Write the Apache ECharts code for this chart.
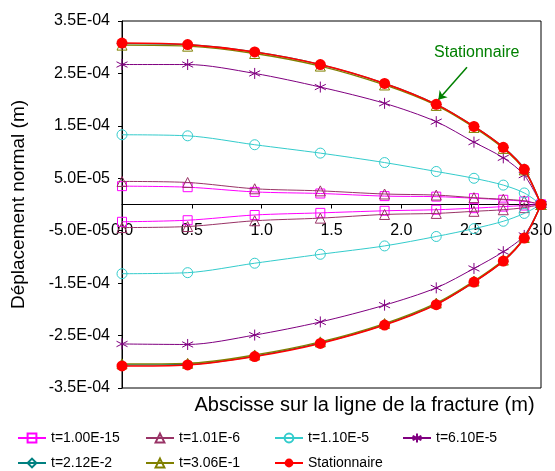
<!DOCTYPE html>
<html>
<head>
<meta charset="utf-8">
<script src="https://cdn.jsdelivr.net/npm/echarts@6/dist/echarts.min.js"></script>
<style>
  html, body { margin: 0; padding: 0; background: #fff; }
  #main { width: 555px; height: 471px; }
</style>
</head>
<body>
<div id="main"></div>
<script>
// abscisses des noeuds (m)
var xs = [0, 0.47, 0.95, 1.42, 1.88, 2.25, 2.52, 2.73, 2.88, 3.0];

// deplacements en 1E-04 m : levre haute / levre basse
var t1Haut  = [0.35, 0.33, 0.24, 0.21, 0.16, 0.15, 0.12, 0.09, 0.06, 0];
var t1Bas   = [-0.33, -0.30, -0.20, -0.16, -0.12, -0.10, -0.07, -0.04, -0.02, 0];
var t2Haut  = [0.44, 0.42, 0.30, 0.26, 0.20, 0.18, 0.13, 0.10, 0.07, 0];
var t2Bas   = [-0.44, -0.42, -0.31, -0.26, -0.19, -0.17, -0.13, -0.10, -0.06, 0];
var t3Haut  = [1.33, 1.31, 1.14, 0.98, 0.80, 0.63, 0.50, 0.37, 0.22, 0];
var t3Bas   = [-1.32, -1.30, -1.12, -0.95, -0.79, -0.61, -0.46, -0.32, -0.17, 0];
var t4Haut  = [2.67, 2.67, 2.50, 2.24, 1.93, 1.58, 1.19, 0.89, 0.56, 0];
var t4Bas   = [-2.66, -2.67, -2.49, -2.24, -1.92, -1.59, -1.22, -0.90, -0.59, 0];
var t5Haut  = [3.07, 3.05, 2.91, 2.67, 2.31, 1.91, 1.49, 1.09, 0.68, 0];
var t5Bas   = [-3.06, -3.05, -2.89, -2.64, -2.29, -1.90, -1.48, -1.08, -0.64, 0];
var t6Haut  = [3.04, 3.02, 2.88, 2.64, 2.28, 1.89, 1.47, 1.07, 0.66, 0];
var t6Bas   = [-3.04, -3.03, -2.87, -2.62, -2.27, -1.88, -1.46, -1.06, -0.63, 0];
var statHaut = [3.08, 3.05, 2.91, 2.67, 2.31, 1.91, 1.49, 1.09, 0.67, 0];
var statBas  = [-3.08, -3.06, -2.90, -2.65, -2.30, -1.91, -1.48, -1.08, -0.64, 0];

var noms = ['t=1.00E-15', 't=1.01E-6', 't=1.10E-5', 't=6.10E-5', 't=2.12E-2', 't=3.06E-1', 'Stationnaire'];

// graduations
var yTicks = [-3.5e-4, -2.5e-4, -1.5e-4, -5e-5, 5e-5, 1.5e-4, 2.5e-4, 3.5e-4];
var xTicks = [0, 0.5, 1.0, 1.5, 2.0, 2.5, 3.0];

var asterisque = 'path://M5,0L5,10M0.7,2.5L9.3,7.5M0.7,7.5L9.3,2.5';

var styles = [
  { color: '#FF00FF', symbol: 'rect', size: 9, fill: 'none', width: 1 },
  { color: '#993366', symbol: 'triangle', size: 10, fill: 'none', width: 1 },
  { color: '#33CCCC', symbol: 'circle', size: 10, fill: 'none', width: 1 },
  { color: '#800080', symbol: asterisque, size: 11, fill: 'none', width: 1 },
  { color: '#008080', symbol: 'diamond', size: 10, fill: 'none', width: 1.3 },
  { color: '#808000', symbol: 'triangle', size: 10, fill: 'none', width: 1.3 },
  { color: '#FF0000', symbol: 'circle', size: 11, fill: '#FF0000', width: 1.6 }
];
var donnees = [
  [t1Haut, t1Bas], [t2Haut, t2Bas], [t3Haut, t3Bas], [t4Haut, t4Bas],
  [t5Haut, t5Bas], [t6Haut, t6Bas], [statHaut, statBas]
];

// position des entrees de legende (colonne, ligne)
var legPos = [[17, 431], [145, 431], [274, 431], [402, 431], [17, 456], [145, 456], [274, 456]];

function paires(vals) {
  return xs.map(function (x, i) { return [x, vals[i] * 1e-4]; });
}

function fmtExp(v) {
  var s = v.toExponential(1).split('e');
  var e = parseInt(s[1], 10);
  var ee = (e < 0 ? '-' : '+') + (Math.abs(e) < 10 ? '0' : '') + Math.abs(e);
  return s[0] + 'E' + ee;
}

var series = [];
for (var k = 0; k < noms.length; k++) {
  for (var b = 0; b < 2; b++) {
    var st = styles[k];
    series.push({
      name: noms[k],
      type: 'line',
      data: paires(donnees[k][b]),
      smooth: 0.3,
      symbol: st.symbol,
      symbolSize: st.size,
      showAllSymbol: true,
      z: 2 + k,
      lineStyle: { color: st.color, width: st.width },
      itemStyle: { color: st.fill, borderColor: st.color, borderWidth: k == 6 ? 0 : 1 }
    });
  }
}

// fleche + texte "Stationnaire"
series[12].markLine = {
  silent: true,
  symbol: ['none', 'arrow'],
  symbolSize: 8,
  label: { show: false },
  lineStyle: { color: '#008000', width: 1.5, type: 'solid' },
  data: [[{ coord: [2.47, 2.62e-4] }, { coord: [2.265, 2.0e-4] }]]
};
series[12].markPoint = {
  silent: true,
  symbol: 'circle',
  symbolSize: 1,
  itemStyle: { color: 'transparent' },
  label: { show: true, position: 'inside', formatter: 'Stationnaire', color: '#008000', fontSize: 16 },
  data: [{ coord: [2.54, 2.89e-4] }]
};

var legends = noms.map(function (n, i) {
  return {
    data: [n],
    left: legPos[i][0],
    top: legPos[i][1],
    padding: 0,
    itemWidth: 28,
    itemHeight: 11,
    textStyle: { fontSize: 14, color: '#000', lineHeight: 14 }
  };
});

var chart = echarts.init(document.getElementById('main'));
chart.setOption({
  animation: false,
  backgroundColor: '#fff',
  textStyle: { fontFamily: 'Liberation Sans, Arial, sans-serif', color: '#000' },
  grid: {
    left: 122, right: 14, top: 21, bottom: 83,
    outerBoundsMode: 'none',
    show: true, borderColor: '#000', borderWidth: 1, backgroundColor: 'transparent'
  },
  legend: legends,
  xAxis: {
    type: 'value',
    min: 0, max: 3, interval: 0.5,
    offset: -183.5,
    name: 'Abscisse sur la ligne de la fracture (m)',
    nameLocation: 'middle',
    nameGap: 191,
    nameTextStyle: { fontSize: 20, color: '#000', padding: [0, 0, 0, 66] },
    axisLine: { onZero: false, lineStyle: { color: '#000', width: 1 } },
    axisTick: { show: true, length: 4, lineStyle: { color: '#000' }, customValues: xTicks },
    axisLabel: {
      fontSize: 16, color: '#000', margin: 18, customValues: xTicks,
      formatter: function (v) { return v.toFixed(1); }
    },
    splitLine: { show: false }
  },
  yAxis: {
    type: 'value',
    min: -3.5e-4, max: 3.5e-4,
    name: 'Déplacement normal (m)',
    nameLocation: 'middle',
    nameGap: 94,
    nameTextStyle: { fontSize: 19, color: '#000' },
    axisLine: { show: true, lineStyle: { color: '#000', width: 1 } },
    axisTick: { show: true, length: 4, lineStyle: { color: '#000' }, customValues: yTicks },
    axisLabel: { fontSize: 16, color: '#000', margin: 12, customValues: yTicks, formatter: fmtExp },
    splitLine: { show: false }
  },
  series: series
});
</script>
</body>
</html>
